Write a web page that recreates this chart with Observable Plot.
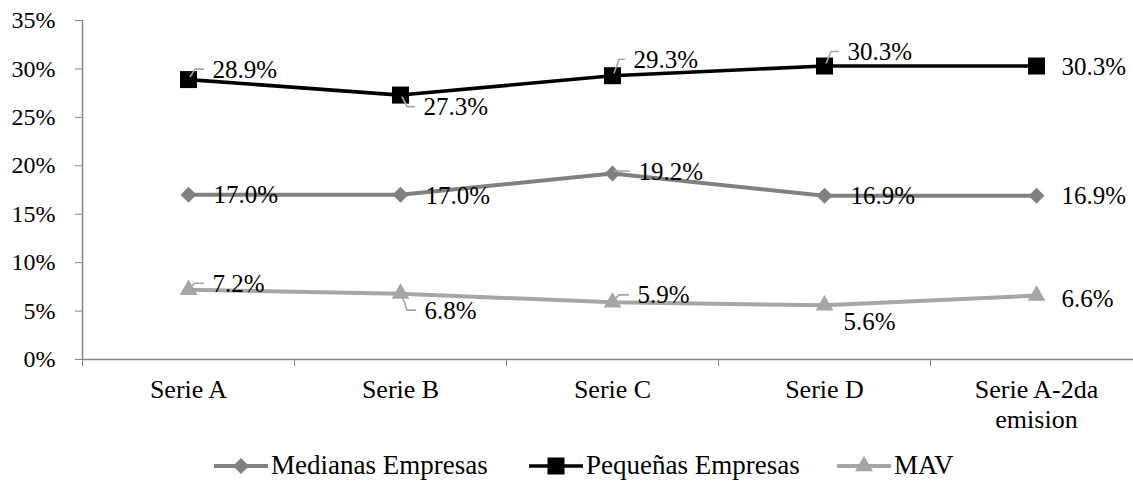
<!DOCTYPE html>
<html>
<head>
<meta charset="utf-8">
<script src="https://cdn.jsdelivr.net/npm/d3@7"></script>
<script src="https://cdn.jsdelivr.net/npm/@observablehq/plot@0.6"></script>
<style>
  html, body { margin: 0; padding: 0; background: #fff; }
  body { width: 1133px; height: 491px; overflow: hidden; font-family: "Liberation Serif", "Times New Roman", serif; }
  #legend { position: relative; height: 51px; }
  .item { position: absolute; top: 0; height: 51px; display: flex; align-items: center; font-size: 27px; color: #000; white-space: nowrap; }
  .item svg { margin-right: 3px; }
</style>
</head>
<body>
<div id="chart"></div>
<div id="legend"></div>
<script>
// Categories on the x axis
const categories = ["Serie A", "Serie B", "Serie C", "Serie D", "Serie A-2da\nemision"];

// Series values (percent)
const medianas = [17.0, 17.0, 19.2, 16.9, 16.9];
const pequenas = [28.9, 27.3, 29.3, 30.3, 30.3];
const mav = [7.2, 6.8, 5.9, 5.6, 6.6];

// Y axis ticks (percent)
const yTicks = [0, 5, 10, 15, 20, 25, 30, 35];

const seriesNames = ["Medianas Empresas", "Pequeñas Empresas", "MAV"];

// Appearance of each series
const styles = {
  "Medianas Empresas": {color: "#808080", symbol: "diamond2", r: 7.2, width: 4},
  "Pequeñas Empresas": {color: "#000000", symbol: "square", r: 9.6, width: 3.6},
  "MAV": {color: "#a6a6a6", symbol: "triangle", r: 6.6, width: 4}
};

// Label offsets (dx, dy in px) and whether a leader line is drawn
const labelPlacement = {
  "Medianas Empresas": [[25, 0, false], [25, 1, false], [26, -2, true], [26, 0, false], [25, 0, false]],
  "Pequeñas Empresas": [[24, -10, true], [23, 12, true], [21, -16, true], [23, -14, true], [25, 1, false]],
  "MAV": [[24, -6, true], [24, 17, true], [25, -7, true], [19, 17, false], [25, 3, false]]
};

const seriesValues = {
  "Medianas Empresas": medianas,
  "Pequeñas Empresas": pequenas,
  "MAV": mav
};

// Long-format table built from the arrays above
const rows = [];
for (const name of seriesNames) {
  seriesValues[name].forEach((v, i) => rows.push({series: name, i, category: categories[i], value: v}));
}

const axisGray = "#868686";
const font = "Liberation Serif, Times New Roman, serif";

const marks = [
  // axis lines
  Plot.ruleX([-0.5], {y1: 0, y2: 35, stroke: axisGray, strokeWidth: 1.5}),
  Plot.ruleY([0], {stroke: axisGray, strokeWidth: 1.5}),
  Plot.axisY({ticks: yTicks, tickSize: 7, tickPadding: 20, tickFormat: d => d + "%",
    stroke: axisGray, fill: "black", fontSize: 24, label: null}),
  // category boundary ticks
  Plot.axisX({ticks: d3.range(-0.5, categories.length, 1), tickSize: 7, tickFormat: () => "",
    stroke: axisGray, label: null}),
  // category labels
  Plot.axisX({ticks: d3.range(categories.length), tickSize: 0, tickPadding: 17,
    tickFormat: i => categories[i], fill: "black", fontSize: 26, lineHeight: 1.15, label: null})
];

// lines and markers
for (const name of seriesNames) {
  const s = styles[name];
  const data = rows.filter(d => d.series === name);
  marks.push(Plot.line(data, {x: "i", y: "value", stroke: s.color, strokeWidth: s.width}));
  marks.push(Plot.dot(data, {x: "i", y: "value", symbol: s.symbol, r: s.r, fill: s.color, stroke: null}));
}

// leader lines from markers to their labels
marks.push((index, scales) => {
  const g = d3.create("svg:g").attr("fill", "none").attr("stroke", "#a6a6a6").attr("stroke-width", 1.6);
  for (const d of rows) {
    const [dx, dy, leader] = labelPlacement[d.series][d.i];
    if (!leader) continue;
    const px = scales.x(d.i), py = scales.y(d.value);
    const sgn = dy < 0 ? -1 : 1;
    const ly = py + dy;
    g.append("path").attr("d", `M${px + 2},${py + sgn * 2}L${px + 7},${ly}L${px + dx - 8},${ly}`);
  }
  return g.node();
});

// value labels
for (const d of rows) {
  const [dx, dy] = labelPlacement[d.series][d.i];
  marks.push(Plot.text([d], {x: "i", y: "value", text: v => v.value.toFixed(1) + "%",
    textAnchor: "start", dx, dy, fontSize: 25, fill: "black"}));
}

const chart = Plot.plot({
  width: 1133,
  height: 440,
  marginLeft: 82,
  marginRight: 0,
  marginTop: 20,
  marginBottom: 81,
  style: {fontFamily: font, background: "white"},
  x: {type: "linear", domain: [-0.5, categories.length - 0.5], range: [82, 1142]},
  y: {domain: [0, 35], range: [359, 20]},
  marks
});
document.getElementById("chart").appendChild(chart);

// Legend below the plot
const legend = document.getElementById("legend");
const legendX = {"Medianas Empresas": 214, "Pequeñas Empresas": 529, "MAV": 837};
for (const name of seriesNames) {
  const s = styles[name];
  const item = document.createElement("div");
  item.className = "item";
  item.style.left = legendX[name] + "px";
  const w = 54;
  const sw = d3.create("svg").attr("width", w).attr("height", 24);
  sw.append("line").attr("x1", 0).attr("x2", w).attr("y1", 12).attr("y2", 12)
    .attr("stroke", s.color).attr("stroke-width", s.width);
  const sym = {diamond2: d3.symbolDiamond2, square: d3.symbolSquare, triangle: d3.symbolTriangle}[s.symbol];
  sw.append("path").attr("transform", `translate(${w / 2},12)`)
    .attr("d", d3.symbol(sym, Math.PI * s.r * s.r)()).attr("fill", s.color);
  item.appendChild(sw.node());
  const label = document.createElement("span");
  label.textContent = name;
  item.appendChild(label);
  legend.appendChild(item);
}
</script>
</body>
</html>
